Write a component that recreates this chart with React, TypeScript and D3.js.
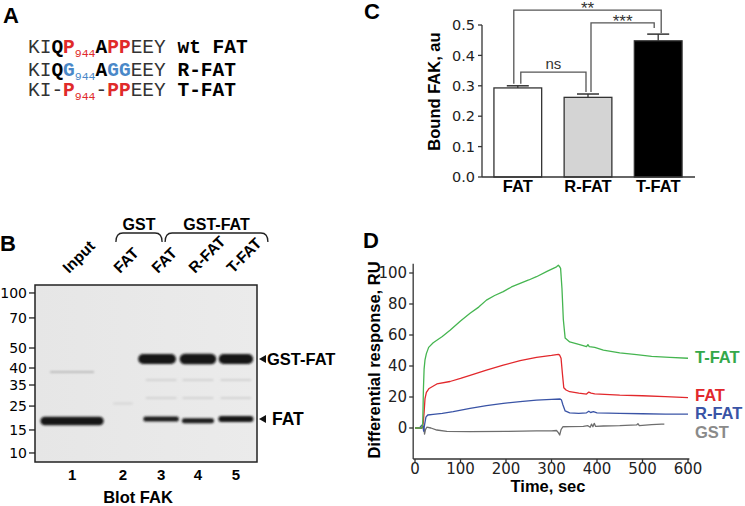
import React from 'react';
import * as d3 from 'd3';

const W = 745;
const H = 506;
const SANS = '"Liberation Sans", Arial, sans-serif';
const NUM = '"DejaVu Sans", sans-serif';
const MONO = '"Liberation Mono", monospace';

// ---------- Panel A: sequences ----------
type SegKind = 'reg' | 'bold' | 'red' | 'blue' | 'subRed' | 'subBlue';
const seqRow1: [string, SegKind][] = [['KI', 'reg'], ['Q', 'bold'], ['P', 'red'], ['944', 'subRed'], ['A', 'bold'], ['PP', 'red'], ['EEY ', 'reg'], ['wt FAT', 'bold']];
const seqRow2: [string, SegKind][] = [['KI', 'reg'], ['Q', 'bold'], ['G', 'blue'], ['944', 'subBlue'], ['A', 'bold'], ['GG', 'blue'], ['EEY ', 'reg'], ['R-FAT', 'bold']];
const seqRow3: [string, SegKind][] = [['KI-', 'reg'], ['P', 'red'], ['944', 'subRed'], ['-', 'reg'], ['PP', 'red'], ['EEY ', 'reg'], ['T-FAT', 'bold']];
const seqRows = [seqRow1, seqRow2, seqRow3];

// ---------- Panel B: blot ----------
const markerKDa = [100, 70, 50, 40, 35, 25, 15, 10];
const markerRf = [0.045, 0.186, 0.356, 0.469, 0.565, 0.684, 0.819, 0.949];
const laneIds = [1, 2, 3, 4, 5];
const laneHeaders = ['Input', 'FAT', 'FAT', 'R-FAT', 'T-FAT'];
const laneRf = [0.167, 0.396, 0.568, 0.734, 0.905];
// lane, apparent kDa, band width (fraction of blot width), thickness, shade
const bandLane = [1, 1, 2, 3, 4, 5, 3, 4, 5, 3, 4, 5, 3, 4, 5];
const bandKDa = [18.2, 38.8, 26, 44.2, 44.2, 44.2, 19.0, 18.3, 19.0, 36.4, 36.4, 36.4, 28.4, 28.4, 28.4];
const bandWidth = [0.285, 0.2, 0.09, 0.17, 0.165, 0.155, 0.16, 0.145, 0.158, 0.14, 0.14, 0.14, 0.14, 0.14, 0.14];
const bandThick = [8.5, 2, 2, 10, 10.5, 10, 5, 5, 6, 2, 2, 2, 2, 2, 2];
const bandShade = [0.97, 0.2, 0.08, 0.97, 0.97, 0.97, 0.92, 0.92, 0.94, 0.1, 0.1, 0.1, 0.1, 0.1, 0.1];

// ---------- Panel C: bar chart ----------
const cCats = ['FAT', 'R-FAT', 'T-FAT'];
const cMeans = [0.293, 0.262, 0.448];
const cErrs = [0.007, 0.011, 0.022];
const cFills = ['#ffffff', '#d4d4d4', '#000000'];
const cTicks = [0, 0.1, 0.2, 0.3, 0.4, 0.5];
const sigFrom = [0, 1, 0];
const sigTo = [1, 2, 2];
const sigLabel = ['ns', '***', '**'];
const sigLevel = [0.345, 0.507, 0.549];

// ---------- Panel D: SPR sensorgrams ----------
const tfatT = [0, 15, 17, 18.5, 20, 22, 25, 30, 40, 60, 77, 100, 121, 140, 157, 175, 194, 212, 231, 250, 267, 290, 311, 315, 318, 320, 323, 326, 330, 340, 360, 377, 380, 383, 395, 414, 450, 487, 520, 560, 600];
const tfatV = [0, 0, 3, 25, 38, 44, 48, 52, 55, 59, 63, 69, 74, 78, 82.5, 85.5, 88, 91, 93.3, 95.5, 97.6, 101, 104, 105, 104, 103, 90, 70, 58, 55.5, 54, 52.5, 53.8, 52.5, 52, 50.3, 48.5, 47.3, 46.2, 45.5, 45];
const fatT = [0, 15, 18, 20, 22, 25, 31, 48, 77, 100, 121, 157, 194, 231, 267, 300, 315, 318, 321, 324, 327, 332, 340, 360, 377, 382, 387, 395, 450, 500, 550, 600];
const fatV = [0, 0, 3, 10, 19, 23, 25.5, 28.4, 30, 32, 34, 37.4, 40.6, 43.4, 45.6, 46.8, 47.5, 47, 45, 35, 26, 24.5, 23.4, 22.5, 21.9, 23.2, 22.5, 22, 21.2, 20.8, 20.2, 19.6];
const rfatT = [0, 10, 14, 17, 19, 21, 24, 28, 40, 60, 84, 121, 157, 194, 231, 267, 300, 319, 322, 325, 330, 340, 360, 377, 382, 386, 392, 400, 450, 500, 550, 600];
const rfatV = [0, 0, 1.5, 2, -2, 2, 7, 8.4, 8.8, 9.4, 10.5, 12.7, 14.5, 15.9, 17, 18, 18.5, 18.7, 18, 15, 11, 9.7, 9.5, 9.8, 10.8, 10, 10.5, 9.7, 9.5, 9.2, 9, 9];
const gstT = [0, 15, 18, 20, 21, 23, 26, 35, 48, 70, 121, 200, 267, 300, 311, 315, 318, 321, 325, 340, 370, 380, 385, 388, 391, 394, 397, 414, 450, 487, 490, 493, 520, 542, 548];
const gstV = [0, 0, 1, -1, -4, -1, 0.5, 0, -1.3, -2.2, -2.4, -2.2, -1.9, -1.8, -1.6, -3, -4.5, -1, 0.8, 0.9, 1, 1.5, 0.5, 2.5, 0.8, 3, 1, 1.3, 1.5, 2, 2.8, 1.5, 2.2, 2.5, 2.5];
const dSeriesNames = ['T-FAT', 'FAT', 'R-FAT', 'GST'];
const dSeriesT = [tfatT, fatT, rfatT, gstT];
const dSeriesV = [tfatV, fatV, rfatV, gstV];
const dLabelValue = [45.5, 21, 9.5, -2.5];
const dLineColors = ['#45b550', '#e2282c', '#3a54a6', '#6e6e6e'];
const dLabelColors = ['#34a84a', '#e2282c', '#3a54a6', '#8a8a8a'];
const dYTicks = [0, 20, 40, 60, 80, 100];
const dXTicks = [0, 100, 200, 300, 400, 500, 600];

function segStyle(k: SegKind) {
  switch (k) {
    case 'reg': return { fill: '#333', fontWeight: 400 };
    case 'bold': return { fill: '#000', fontWeight: 700 };
    case 'red': return { fill: '#e02a2a', fontWeight: 700 };
    case 'blue': return { fill: '#4a88c8', fontWeight: 700 };
    case 'subRed': return { fill: '#e02a2a', fontWeight: 400 };
    case 'subBlue': return { fill: '#4a88c8', fontWeight: 400 };
  }
}

function PanelA() {
  const baselines = [53, 76, 96];
  return (
    <g>
      <text x={3} y={23} fontFamily={SANS} fontWeight={700} fontSize={22}>A</text>
      {seqRows.map((row, i) => (
        <text key={i} x={28} y={baselines[i]} fontFamily={MONO} fontSize={19.5} style={{ whiteSpace: 'pre' }}>
          {row.map(([t, k], j) => {
            const st = segStyle(k);
            const isSub = k === 'subRed' || k === 'subBlue';
            const prevSub = j > 0 && (row[j - 1][1] === 'subRed' || row[j - 1][1] === 'subBlue');
            return (
              <tspan key={j} fill={st.fill} fontWeight={st.fontWeight}
                fontSize={isSub ? 11.5 : 19.5} dy={isSub ? 4 : prevSub ? -4 : 0}>{t}</tspan>
            );
          })}
        </text>
      ))}
    </g>
  );
}

function PanelB() {
  const left = 35, top = 285, right = 257, bottom = 462;
  const bw = right - left, bh = bottom - top;
  const yKDa = d3.scaleLog().domain(markerKDa).range(markerRf.map(r => top + r * bh));
  const xLane = (lane: number) => left + laneRf[laneIds.indexOf(lane)] * bw;
  const bracket = (x1: number, x2: number, yTop: number, yBot: number) =>
    `M${x1},${yBot} Q${x1},${yTop} ${x1 + 7},${yTop} L${x2 - 7},${yTop} Q${x2},${yTop} ${x2},${yBot}`;
  const gstFatY = yKDa(44.2);
  const fatY = yKDa(19.0);
  return (
    <g fontFamily={SANS}>
      <text x={0} y={251} fontWeight={700} fontSize={22}>B</text>
      {laneIds.map((l, i) => (
        <text key={l} transform={`translate(${xLane(l) - 3},274) rotate(-45)`} fontWeight={700} fontSize={15.5}>{laneHeaders[i]}</text>
      ))}
      <path d={bracket(xLane(2) - 7, xLane(3) + 1, 233, 242)} fill="none" stroke="#222" strokeWidth={1.3} />
      <path d={bracket(xLane(3) + 4, xLane(5) + 32, 233, 242)} fill="none" stroke="#222" strokeWidth={1.3} />
      <text x={(xLane(2) + xLane(3)) / 2 - 3} y={230} textAnchor="middle" fontWeight={700} fontSize={16}>GST</text>
      <text x={(xLane(3) + xLane(5) + 36) / 2} y={230} textAnchor="middle" fontWeight={700} fontSize={16}>GST-FAT</text>
      <defs>
        <filter id="bandBlur" x="-20%" y="-100%" width="140%" height="300%">
          <feGaussianBlur stdDeviation="1.2" />
        </filter>
        <linearGradient id="blotBg" x1="0" x2="1" y1="0" y2="0">
          <stop offset="0" stopColor="#e6e6e6" />
          <stop offset="1" stopColor="#ebebeb" />
        </linearGradient>
      </defs>
      <rect x={left} y={top} width={bw} height={bh} fill="url(#blotBg)" />
      {bandLane.map((l, i) => {
        const cx = xLane(l) + (i >= 3 && i <= 5 && l === 3 ? -4 : 0);
        const w = bandWidth[i] * bw;
        const h = bandThick[i];
        const y = yKDa(bandKDa[i]);
        const g = Math.round(232 - bandShade[i] * 220);
        return (
          <rect key={i} x={cx - w / 2} y={y - h / 2} width={w} height={h} rx={h / 2}
            fill={`rgb(${g},${g},${g})`} filter="url(#bandBlur)" />
        );
      })}
      <rect x={left} y={top} width={bw} height={bh} fill="none" stroke="#222" strokeWidth={1.5} />
      {markerKDa.map((m, i) => {
        const y = top + markerRf[i] * bh;
        return (
          <g key={m}>
            <line x1={29} x2={left} y1={y} y2={y} stroke="#222" strokeWidth={1.3} />
            <text x={27} y={y} dy="0.36em" textAnchor="end" fontFamily={NUM} fontSize={14}>{m}</text>
          </g>
        );
      })}
      <path d={`M${right + 2},${gstFatY} l7,-4 l0,8 z`} fill="#111" />
      <text x={267} y={gstFatY} dy="0.36em" fontWeight={700} fontSize={16.5}>GST-FAT</text>
      <path d={`M${right + 2},${fatY} l7,-4 l0,8 z`} fill="#111" />
      <text x={272} y={fatY} dy="0.36em" fontWeight={700} fontSize={17.5}>FAT</text>
      {laneIds.map(l => (
        <text key={l} x={xLane(l)} y={480} textAnchor="middle" fontWeight={700} fontSize={15}>{l}</text>
      ))}
      <text x={138} y={503} textAnchor="middle" fontWeight={700} fontSize={16.5}>Blot FAK</text>
    </g>
  );
}

function PanelC() {
  const x = d3.scaleBand().domain(cCats).range([482, 694]).paddingInner(0.32).paddingOuter(0.17);
  const y = d3.scaleLinear().domain([0, 0.5]).range([177, 25]);
  const fmt = d3.format('.1f');
  const bwid = x.bandwidth();
  const cx = (i: number) => (x(cCats[i]) as number) + bwid / 2;
  const legOff = [[3, -2], [3, -4], [-4, 3]];
  const legGap = [[2, 2], [2, 6], [2, 1]];
  return (
    <g fontFamily={SANS}>
      <text x={364} y={19} fontWeight={700} fontSize={22}>C</text>
      {cCats.map((c, i) => (
        <g key={c}>
          <line x1={cx(i)} x2={cx(i)} y1={y(cMeans[i])} y2={y(cMeans[i] + cErrs[i])} stroke="#333" strokeWidth={1.3} />
          <line x1={cx(i) - 11} x2={cx(i) + 11} y1={y(cMeans[i] + cErrs[i])} y2={y(cMeans[i] + cErrs[i])} stroke="#333" strokeWidth={1.5} />
          <rect x={x(c)} y={y(cMeans[i])} width={bwid} height={y(0) - y(cMeans[i])} fill={cFills[i]} stroke="#333" strokeWidth={1.3} />
          <text x={cx(i)} y={192} textAnchor="middle" fontWeight={700} fontSize={16.5}>{c}</text>
        </g>
      ))}
      {sigLabel.map((s, k) => {
        const a = sigFrom[k], b = sigTo[k];
        const xa = cx(a) + legOff[k][0], xb = cx(b) + legOff[k][1];
        const yl = y(sigLevel[k]);
        const ya = y(cMeans[a] + cErrs[a]) - legGap[k][0];
        const yb = y(cMeans[b] + cErrs[b]) - legGap[k][1];
        const isStar = s.includes('*');
        return (
          <g key={k}>
            <path d={`M${xa},${ya} L${xa},${yl} L${xb},${yl} L${xb},${yb}`} fill="none" stroke="#555" strokeWidth={1.3} />
            <text x={(xa + xb) / 2} y={isStar ? yl + 4 : yl - 3} textAnchor="middle" fontSize={isStar ? 17 : 15} fill="#333">{s}</text>
          </g>
        );
      })}
      <line x1={482} x2={482} y1={y(0)} y2={y(0.5)} stroke="#333" strokeWidth={1.3} />
      <line x1={482} x2={695} y1={y(0)} y2={y(0)} stroke="#333" strokeWidth={1.3} />
      {cTicks.map(t => (
        <g key={t}>
          <line x1={478} x2={482} y1={y(t)} y2={y(t)} stroke="#333" strokeWidth={1.3} />
          <text x={475} y={y(t)} dy="0.36em" textAnchor="end" fontFamily={NUM} fontSize={14.5} fill="#222">{fmt(t)}</text>
        </g>
      ))}
      <text transform="translate(440,91.5) rotate(-90)" textAnchor="middle" fontWeight={700} fontSize={16.5}>Bound FAK, au</text>
    </g>
  );
}

function PanelD() {
  const x = d3.scaleLinear().domain([0, 600]).range([415, 688]);
  const y = d3.scaleLinear().domain([-20, 100]).range([459, 273]);
  const line = d3.line<[number, number]>().x(d => x(d[0])).y(d => y(d[1]));
  const axX = x(-4);
  return (
    <g fontFamily={SANS}>
      <text x={363} y={248} fontWeight={700} fontSize={22}>D</text>
      {dSeriesNames.map((n, i) => {
        const pts = dSeriesT[i].map((t, j) => [t, dSeriesV[i][j]] as [number, number]);
        return <path key={n} d={line(pts) || ''} fill="none" stroke={dLineColors[i]} strokeWidth={1.3} strokeLinejoin="round" />;
      }).reverse()}
      {dSeriesNames.map((n, i) => (
        <text key={n} x={695} y={y(dLabelValue[i])} dy="0.36em" fontWeight={700} fontSize={16.5} fill={dLabelColors[i]}>{n}</text>
      ))}
      <line x1={axX} x2={axX} y1={y(-20)} y2={y(106)} stroke="#333" strokeWidth={1.3} />
      <line x1={axX} x2={x(603)} y1={y(-20)} y2={y(-20)} stroke="#333" strokeWidth={1.3} />
      {dYTicks.map(t => (
        <g key={t}>
          <line x1={axX - 4} x2={axX} y1={y(t)} y2={y(t)} stroke="#333" strokeWidth={1.3} />
          <text x={axX - 6} y={y(t)} dy="0.36em" textAnchor="end" fontFamily={NUM} fontSize={15} fill="#222">{t}</text>
        </g>
      ))}
      {dXTicks.map(t => (
        <g key={t}>
          <line x1={x(t)} x2={x(t)} y1={y(-20)} y2={y(-20) + 4} stroke="#333" strokeWidth={1.3} />
          <text x={x(t)} y={474} textAnchor="middle" fontFamily={NUM} fontSize={15} fill="#222">{t}</text>
        </g>
      ))}
      <text x={548} y={492} textAnchor="middle" fontWeight={700} fontSize={16.5}>Time, sec</text>
      <text transform="translate(380,360) rotate(-90)" textAnchor="middle" fontWeight={700} fontSize={16.5}>Differential response, RU</text>
    </g>
  );
}

export default function App() {
  return (
    <svg width={W} height={H} viewBox={`0 0 ${W} ${H}`} style={{ position: 'absolute', left: 0, top: 0, background: '#fff' }}>
      <rect width={W} height={H} fill="#fff" />
      <PanelA />
      <PanelB />
      <PanelC />
      <PanelD />
    </svg>
  );
}
